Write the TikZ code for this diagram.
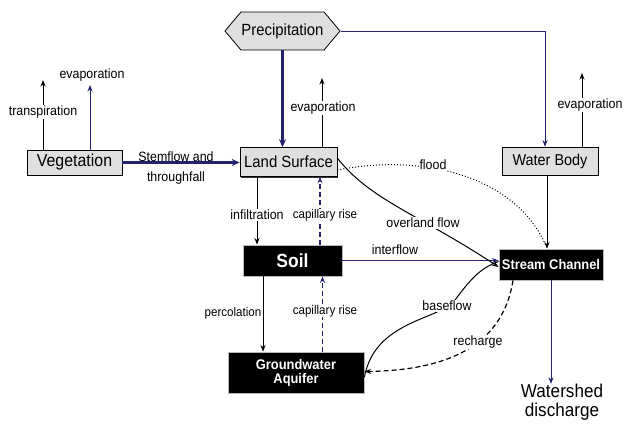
\documentclass[tikz,border=0pt]{standalone}
\usepackage{fontspec}
\setmainfont[FakeStretch=0.92]{Liberation Sans}
\usetikzlibrary{arrows.meta,shapes.symbols,shadows}
\definecolor{navy}{HTML}{22226E}
\newcommand\fsz[1]{\fontsize{#1}{#1}\selectfont}
\begin{document}
\begin{tikzpicture}[x=1pt,y=-1pt,
  graybox/.style={draw=black,line width=0.6pt,fill=gray!25,inner sep=0pt,
    drop shadow={shadow xshift=1.3pt,shadow yshift=-1.3pt,fill=black!80,opacity=1}},
  blackbox/.style={draw=gray!55,line width=0.9pt,fill=black,text=white,inner sep=0pt,
    font=\bfseries,align=center},
  lbl/.style={fill=white,inner sep=0.6pt,font=\fsz{13.5}},
  slbl/.style={fill=white,inner sep=0.6pt,font=\fsz{12.6}},
  arr/.style={-{Stealth[length=6.5pt,width=5pt]},line width=1pt,black},
  narr/.style={-{Stealth[length=6.5pt,width=5pt]},line width=0.9pt,navy},
  thick navy/.style={-{Stealth[length=8pt,width=7pt]},line width=2.2pt,navy},
  dnarr/.style={narr,dash pattern=on 5pt off 3pt,line width=1.2pt}]
\useasboundingbox (0,0) rectangle (625,424);

% nodes
\node[signal,signal to=west and east,signal pointer angle=100,draw=black,line width=0.8pt,
  fill=gray!25,minimum width=115pt,minimum height=38pt,inner sep=0pt,font=\fsz{16.2}]
  (precip) at (282.5,31) {Precipitation};
\node[graybox,minimum width=95pt,minimum height=25pt,font=\fsz{17.3}] (veg) at (74.5,162.5) {Vegetation};
\node[graybox,minimum width=97pt,minimum height=29pt,font=\fsz{16.2}] (land) at (288.5,162) {Land Surface};
\node[graybox,minimum width=96pt,minimum height=28pt,font=\fsz{15.7}] (water) at (550,161) {Water Body};
\node[blackbox,minimum width=99pt,minimum height=31pt,font=\bfseries\fsz{19}] (soil) at (292.5,260.5) {Soil};
\node[blackbox,minimum width=104pt,minimum height=31pt,font=\bfseries\fsz{14}] (stream) at (551,264.5) {Stream Channel};
\node[blackbox,minimum width=136pt,minimum height=41pt,font=\bfseries\fsz{14},
  align=center] (gw) at (296,372.5) {Groundwater\\[0pt]Aquifer};
\node[font=\fsz{18.6},align=center,inner sep=0pt] (dis) at (562,402) {Watershed\\[0pt]discharge};

% free ends of evaporation/transpiration arrows
\coordinate (vtr) at (43,80);
\coordinate (vev) at (90,85);
\coordinate (lev) at (322,78);
\coordinate (wev) at (582,73);

% precipitation
\draw[thick navy] (precip.south) -- (precip.south |- land.north);
\draw[narr,line width=0.8pt] (precip.east) -| ([xshift=-5pt]water.north);

% vegetation
\draw[arr] (veg.north -| vtr) -- (vtr);
\draw[narr] (veg.north -| vev) -- (vev);
\draw[thick navy] (veg.east) -- (veg.east -| land.west);

% land surface
\draw[arr] (land.north -| lev) -- (lev);
\draw[arr] ([xshift=-31.5pt]land.south) -- ([xshift=-31.5pt]land.south |- soil.north);
\draw[dnarr] ([xshift=27.5pt]soil.north) -- ([xshift=27.5pt]soil.north |- land.south);

% soil
\draw[arr] ([xshift=-29.5pt]soil.south) -- ([xshift=-29.5pt]soil.south |- gw.north);
\draw[dnarr] ([xshift=26.5pt]gw.north) -- ([xshift=26.5pt]gw.north |- soil.south);
\draw[narr] (soil.east) -- (soil.east -| stream.west);

% overland flow and flood
\draw[arr] ([yshift=4pt]land.east) .. controls (370,200) and (420,215) .. ([yshift=-2.5pt]stream.west);
\draw[black,line width=1pt,dotted] ([yshift=-8pt]land.east) .. controls (430,152) and (520,180) .. ([xshift=-4pt]stream.north);

% water body
\draw[arr] (water.north -| wev) -- (wev);
\draw[arr] ([xshift=-3pt]water.south) -- ([xshift=-3pt]water.south |- stream.north);

% stream channel
\draw[narr] (stream.south) -- (stream.south |- dis.north);
\draw[black,line width=1pt] ([yshift=-4.5pt]gw.east) .. controls (375,320) and (440,320) .. (455,300)
  .. controls (470,280) and (480,268) .. ([yshift=3pt]stream.west);
\draw[arr,dash pattern=on 5pt off 3pt,line width=1.2pt] ([xshift=-38pt]stream.south) .. controls (505,330) and (470,370) .. ([yshift=1pt]gw.east);

% labels
\node[lbl] (ltr) at (43,112) {transpiration};
\node[lbl] (lve) at (92,75) {evaporation};
\node[lbl] (lle) at (323,108) {evaporation};
\node[lbl] (lwe) at (590,105) {evaporation};
\node[font=\fsz{13.5},inner sep=0pt] (stemA) at (176,157) {Stemflow and};
\node[font=\fsz{13.5},inner sep=0pt] (stemB) at (176,178) {throughfall};
\node[lbl] (linf) at (257,215) {infiltration};
\node[slbl] (lcap1) at (325,215) {capillary rise};
\node[slbl] (lper) at (233,313) {percolation};
\node[slbl] (lcap2) at (325,311) {capillary rise};
\node[lbl] (lint) at (395,250) {interflow};
\node[lbl] (lov) at (423,223) {overland flow};
\node[lbl] (lfl) at (433,165) {flood};
\node[lbl] (lbf) at (447,306) {baseflow};
\node[lbl] (lre) at (478,342) {recharge};
\end{tikzpicture}
\end{document}
